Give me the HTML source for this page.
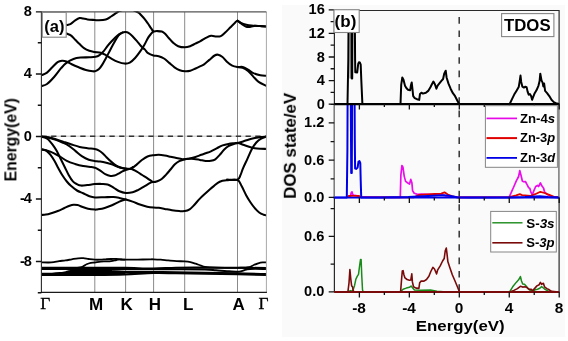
<!DOCTYPE html><html><head><meta charset="utf-8"><style>
html,body{margin:0;padding:0;background:#fff;width:568px;height:341px;overflow:hidden}
svg{display:block}
text{font-family:"Liberation Sans",sans-serif;font-weight:bold;fill:#000;filter:url(#gs)}
.sf{font-family:"Liberation Serif",serif}
</style></head><body>
<svg width="568" height="341" viewBox="0 0 568 341"><defs><filter id="gs"><feColorMatrix type="identity"/></filter></defs>
<rect x="282" y="5" width="283" height="332" fill="#fafafa"/>
<line x1="94.8" y1="11.9" x2="94.8" y2="292.5" stroke="#8a8a8a" stroke-width="1"/>
<line x1="125.6" y1="11.9" x2="125.6" y2="292.5" stroke="#8a8a8a" stroke-width="1"/>
<line x1="153.6" y1="11.9" x2="153.6" y2="292.5" stroke="#8a8a8a" stroke-width="1"/>
<line x1="184.7" y1="11.9" x2="184.7" y2="292.5" stroke="#8a8a8a" stroke-width="1"/>
<line x1="237.5" y1="11.9" x2="237.5" y2="292.5" stroke="#8a8a8a" stroke-width="1"/>
<line x1="41.7" y1="136.2" x2="266.3" y2="136.2" stroke="#aaa" stroke-width="0.7"/>
<line x1="41.7" y1="136.2" x2="266.3" y2="136.2" stroke="#333" stroke-width="1.4" stroke-dasharray="5.3 4.42" stroke-dashoffset="0.3"/>
<clipPath id="ca"><rect x="41.7" y="10.9" width="224.6" height="281.6"/></clipPath>
<g fill="none" stroke="#000" stroke-width="2.05" stroke-linejoin="round" stroke-linecap="round" clip-path="url(#ca)">
<path d="M60 27 C61.12 26.68 64.9 25.63 66.7 25.1 C68.5 24.57 69.38 24.6 70.8 23.8 C72.22 23 73.73 21.27 75.2 20.3 C76.67 19.33 78.28 18.28 79.6 18 C80.92 17.72 81.78 18.37 83.1 18.6 C84.42 18.83 85.6 19.17 87.5 19.4 C89.4 19.63 92.62 19.85 94.5 20 C96.38 20.15 96.92 20.4 98.8 20.3 C100.68 20.2 103.75 20.03 105.8 19.4 C107.85 18.77 109.33 17.58 111.1 16.5 C112.87 15.42 114.92 13.85 116.4 12.9 C117.88 11.95 118.07 11.48 120 10.8 C121.93 10.12 125.37 8.73 128 8.8 C130.63 8.87 133.97 10.5 135.8 11.2 C137.63 11.9 138.13 12.37 139 13 C139.87 13.63 140.08 14.03 141 15 C141.92 15.97 143.35 17.38 144.5 18.8 C145.65 20.22 146.78 21.9 147.9 23.5 C149.02 25.1 150.28 27.1 151.2 28.4 C152.12 29.7 152.42 30.85 153.4 31.3 C154.38 31.75 155.7 31.05 157.1 31.1 C158.5 31.15 160.47 31.17 161.8 31.6 C163.13 32.03 163.9 32.58 165.1 33.7 C166.3 34.82 167.68 36.82 169 38.3 C170.32 39.78 171.47 41.28 173 42.6 C174.53 43.92 176.23 45.42 178.2 46.2 C180.17 46.98 182.82 47.3 184.8 47.3 C186.78 47.3 188.33 46.82 190.1 46.2 C191.87 45.58 193.67 44.45 195.4 43.6 C197.13 42.75 198.77 42.05 200.5 41.1 C202.23 40.15 204.03 38.78 205.8 37.9 C207.57 37.02 209.33 36.03 211.1 35.8 C212.87 35.57 214.78 36.45 216.4 36.5 C218.02 36.55 219.33 36.75 220.8 36.1 C222.27 35.45 223.6 34.07 225.2 32.6 C226.8 31.13 228.8 28.92 230.4 27.3 C232 25.68 233.62 24 234.8 22.9 C235.98 21.8 236.47 20.6 237.5 20.7 C238.53 20.8 239.53 22.48 241 23.5 C242.47 24.52 244.68 26.25 246.3 26.8 C247.92 27.35 249.25 26.97 250.7 26.8 C252.15 26.63 253.4 25.92 255 25.8 C256.6 25.68 258.42 25.98 260.3 26.1 C262.18 26.22 265.3 26.43 266.3 26.5"/>
<path d="M237.5 20.7 C238.08 21.07 239.53 22.23 241 22.9 C242.47 23.57 244.55 24.25 246.3 24.7 C248.05 25.15 249.17 25.37 251.5 25.6 C253.83 25.83 257.83 25.95 260.3 26.1 C262.77 26.25 265.3 26.43 266.3 26.5"/>
<path d="M60 30.5 C61.07 31 64.6 32.7 66.4 33.5 C68.2 34.3 69.33 34.27 70.8 35.3 C72.27 36.33 73.73 38.23 75.2 39.7 C76.67 41.17 78.13 42.7 79.6 44.1 C81.07 45.5 82.38 46.98 84 48.1 C85.62 49.22 87.55 50.15 89.3 50.8 C91.05 51.45 92.58 51.68 94.5 52 C96.42 52.32 98.87 52.15 100.8 52.7 C102.73 53.25 104.33 54.32 106.1 55.3 C107.87 56.28 109.42 57.5 111.4 58.6 C113.38 59.7 115.8 61.07 118 61.9 C120.2 62.73 122.63 63.48 124.6 63.6 C126.57 63.72 128.05 63.53 129.8 62.6 C131.55 61.67 133.37 59.87 135.1 58 C136.83 56.13 138.67 53.57 140.2 51.4 C141.73 49.23 143.02 47.22 144.3 45 C145.58 42.78 146.75 39.98 147.9 38.1 C149.05 36.22 150.28 34.83 151.2 33.7 C152.12 32.57 153.03 31.7 153.4 31.3"/>
<path d="M41.7 75.2 C42.58 74.77 45.23 73.92 47 72.6 C48.77 71.28 50.53 69.03 52.3 67.3 C54.07 65.57 55.98 63.28 57.6 62.2 C59.22 61.12 60.53 60.92 62 60.8 C63.47 60.68 64.78 60.92 66.4 61.5 C68.02 62.08 69.65 63.33 71.7 64.3 C73.75 65.27 76.35 66.37 78.7 67.3 C81.05 68.23 83.45 69.23 85.8 69.9 C88.15 70.57 91.18 71.1 92.8 71.3 C94.42 71.5 94.47 71.48 95.5 71.1 C96.53 70.72 97.87 70.08 99 69 C100.13 67.92 101.13 66.43 102.3 64.6 C103.47 62.77 104.68 60.43 106 58 C107.32 55.57 108.83 52.58 110.2 50 C111.57 47.42 112.8 44.95 114.2 42.5 C115.6 40.05 117.22 36.97 118.6 35.3 C119.98 33.63 121.33 33.05 122.5 32.5 C123.67 31.95 124.6 31.93 125.6 32 C126.6 32.07 127.35 32.2 128.5 32.9 C129.65 33.6 130.97 34.67 132.5 36.2 C134.03 37.73 136.17 40.33 137.7 42.1 C139.23 43.87 140.48 45.55 141.7 46.8 C142.92 48.05 143.93 48.53 145 49.6 C146.07 50.67 146.7 52.22 148.1 53.2 C149.5 54.18 151.63 55 153.4 55.5 C155.17 56 156.93 55.7 158.7 56.2 C160.47 56.7 162.25 57.38 164 58.5 C165.75 59.62 167.45 61.43 169.2 62.9 C170.95 64.37 172.73 66.08 174.5 67.3 C176.27 68.52 178.03 69.53 179.8 70.2 C181.57 70.87 183.35 71.2 185.1 71.3 C186.85 71.4 188.55 71.27 190.3 70.8 C192.05 70.33 193.98 69.23 195.6 68.5 C197.22 67.77 198.58 67.1 200 66.4 C201.42 65.7 202.55 65.38 204.1 64.3 C205.65 63.22 207.55 61.37 209.3 59.9 C211.05 58.43 213.13 56.37 214.6 55.5 C216.07 54.63 216.78 54.45 218.1 54.7 C219.42 54.95 221.03 55.83 222.5 57 C223.97 58.17 225.28 60.25 226.9 61.7 C228.52 63.15 230.43 64.82 232.2 65.7 C233.97 66.58 235.75 66.78 237.5 67 C239.25 67.22 240.95 66.57 242.7 67 C244.45 67.43 246.23 68.58 248 69.6 C249.77 70.62 251.25 72.17 253.3 73.1 C255.35 74.03 258.13 74.75 260.3 75.2 C262.47 75.65 265.3 75.7 266.3 75.8"/>
<path d="M237.5 67 C238.37 67.15 240.95 67.23 242.7 67.9 C244.45 68.57 246.23 69.55 248 71 C249.77 72.45 251.53 74.78 253.3 76.6 C255.07 78.42 256.43 80.37 258.6 81.9 C260.77 83.43 265.02 85.15 266.3 85.8"/>
<path d="M41.7 86.1 C42.58 85.75 44.93 85.52 47 84 C49.07 82.48 51.75 79.63 54.1 77 C56.45 74.37 59.05 70.55 61.1 68.2 C63.15 65.85 64.33 64.43 66.4 62.9 C68.47 61.37 71.15 59.88 73.5 59 C75.85 58.12 77.87 57.88 80.5 57.6 C83.13 57.32 86.8 57.43 89.3 57.3 C91.8 57.17 93.8 57.17 95.5 56.8 C97.2 56.43 98.17 56 99.5 55.1 C100.83 54.2 102.18 52.9 103.5 51.4 C104.82 49.9 106.08 47.75 107.4 46.1 C108.72 44.45 110.08 42.93 111.4 41.5 C112.72 40.07 113.98 38.72 115.3 37.5 C116.62 36.28 118.1 35.02 119.3 34.2 C120.5 33.38 121.97 32.87 122.5 32.6"/>
<path d="M41.7 136.6 C42.73 136.72 45.55 136.87 47.9 137.3 C50.25 137.73 53.17 138.43 55.8 139.2 C58.43 139.97 61.07 141.02 63.7 141.9 C66.33 142.78 68.95 143.67 71.6 144.5 C74.25 145.33 76.95 146.28 79.6 146.9 C82.25 147.52 85 147.85 87.5 148.2 C90 148.55 92.75 148.65 94.6 149 C96.45 149.35 97.27 149.6 98.6 150.3 C99.93 151 101.28 152.05 102.6 153.2 C103.92 154.35 105.18 155.88 106.5 157.2 C107.82 158.52 109.18 159.9 110.5 161.1 C111.82 162.3 113.08 163.47 114.4 164.4 C115.72 165.33 117.07 166.1 118.4 166.7 C119.73 167.3 121.18 167.68 122.4 168 C123.62 168.32 124.17 168.43 125.7 168.6 C127.23 168.77 129.73 168.48 131.6 169 C133.47 169.52 135.13 170.7 136.9 171.7 C138.67 172.7 140.43 173.9 142.2 175 C143.97 176.1 145.93 177.27 147.5 178.3 C149.07 179.33 150.58 180.58 151.6 181.2 C152.62 181.82 152.65 182 153.6 182 C154.55 182 155.95 181.7 157.3 181.2 C158.65 180.7 160.23 180.1 161.7 179 C163.17 177.9 164.63 176.18 166.1 174.6 C167.57 173.02 169.03 171.22 170.5 169.5 C171.97 167.78 173.43 165.7 174.9 164.3 C176.37 162.9 177.65 161.95 179.3 161.1 C180.95 160.25 183.08 159.63 184.8 159.2 C186.52 158.77 187.82 158.87 189.6 158.5 C191.38 158.13 193.55 157.62 195.5 157 C197.45 156.38 199.6 155.42 201.3 154.8 C203 154.18 204.1 153.87 205.7 153.3 C207.3 152.73 209.07 152.23 210.9 151.4 C212.73 150.57 214.75 149.3 216.7 148.3 C218.65 147.3 220.65 146.13 222.6 145.4 C224.55 144.67 226.45 144.27 228.4 143.9 C230.35 143.53 232.73 143.37 234.3 143.2 C235.87 143.03 236.33 143.2 237.8 142.9 C239.27 142.6 241.23 141.97 243.1 141.4 C244.97 140.83 247.05 140.05 249 139.5 C250.95 138.95 252.85 138.52 254.8 138.1 C256.75 137.68 258.78 137.25 260.7 137 C262.62 136.75 265.37 136.67 266.3 136.6"/>
<path d="M41.7 136.8 C42.73 136.93 45.55 137.08 47.9 137.6 C50.25 138.12 53.38 139.08 55.8 139.9 C58.22 140.72 60.2 141.52 62.4 142.5 C64.6 143.48 66.8 144.37 69 145.8 C71.2 147.23 73.4 149.33 75.6 151.1 C77.8 152.87 80 154.97 82.2 156.4 C84.4 157.83 86.73 158.95 88.8 159.7 C90.87 160.45 92.97 160.62 94.6 160.9 C96.23 161.18 96.83 161.15 98.6 161.4 C100.37 161.65 103 161.9 105.2 162.4 C107.4 162.9 109.6 163.62 111.8 164.4 C114 165.18 116.42 166.4 118.4 167.1 C120.38 167.8 122.17 168.27 123.7 168.6 C125.23 168.93 126.28 169.13 127.6 169.1 C128.92 169.07 130.05 169.18 131.6 168.4 C133.15 167.62 135.13 165.83 136.9 164.4 C138.67 162.97 140.43 161.12 142.2 159.8 C143.97 158.48 145.58 157.27 147.5 156.5 C149.42 155.73 151.82 155.48 153.7 155.2 C155.58 154.92 156.97 154.75 158.8 154.8 C160.63 154.85 162.75 155.18 164.7 155.5 C166.65 155.82 168.55 156.28 170.5 156.7 C172.45 157.12 174.43 157.58 176.4 158 C178.37 158.42 180.9 159 182.3 159.2 C183.7 159.4 183.58 159.27 184.8 159.2 C186.02 159.13 188.07 158.85 189.6 158.8 C191.13 158.75 192.28 158.72 194 158.9 C195.72 159.08 197.95 159.55 199.9 159.9 C201.85 160.25 203.87 160.85 205.7 161 C207.53 161.15 209.3 161.08 210.9 160.8 C212.5 160.52 213.83 160.28 215.3 159.3 C216.77 158.32 218.25 156.48 219.7 154.9 C221.15 153.32 222.55 151.27 224 149.8 C225.45 148.33 226.68 147.08 228.4 146.1 C230.12 145.12 232.73 144.43 234.3 143.9 C235.87 143.37 236.33 142.77 237.8 142.9 C239.27 143.03 241.23 144.05 243.1 144.7 C244.97 145.35 247.05 146.2 249 146.8 C250.95 147.4 252.85 147.97 254.8 148.3 C256.75 148.63 258.78 148.7 260.7 148.8 C262.62 148.9 265.37 148.88 266.3 148.9"/>
<path d="M41.7 149.3 C43.13 149.68 47.5 150.53 50.3 151.6 C53.1 152.67 55.75 154.17 58.5 155.7 C61.25 157.23 64.05 159.43 66.8 160.8 C69.55 162.17 72.27 163.03 75 163.9 C77.73 164.77 80.47 165.48 83.2 166 C85.93 166.52 89.5 166.72 91.4 167 C93.3 167.28 93.83 167.52 94.6 167.7 C95.37 167.88 95.12 167.65 96 168.1 C96.88 168.55 98.37 169.4 99.9 170.4 C101.43 171.4 103.43 173.18 105.2 174.1 C106.97 175.02 108.97 175.65 110.5 175.9 C112.03 176.15 113.08 175.97 114.4 175.6 C115.72 175.23 117.07 174.4 118.4 173.7 C119.73 173 121.08 172.07 122.4 171.4 C123.72 170.73 124.98 170.17 126.3 169.7 C127.62 169.23 129.18 169.05 130.3 168.6 C131.42 168.15 132.55 167.27 133 167"/>
<path d="M41.7 136.8 C42.25 136.93 43.9 137.17 45 137.6 C46.1 138.03 47.07 138.27 48.3 139.4 C49.53 140.53 51.03 142.55 52.4 144.4 C53.77 146.25 55.13 148.1 56.5 150.5 C57.87 152.9 59.23 156.05 60.6 158.8 C61.97 161.55 63.33 164.27 64.7 167 C66.07 169.73 67.43 172.8 68.8 175.2 C70.17 177.6 71.53 179.9 72.9 181.4 C74.27 182.9 75.63 183.5 77 184.2 C78.37 184.9 79.38 185.45 81.1 185.6 C82.82 185.75 85.05 185.35 87.3 185.1 C89.55 184.85 92.2 184.3 94.6 184.1 C97 183.9 99.53 183.85 101.7 183.9 C103.87 183.95 105.63 183.78 107.6 184.4 C109.57 185.02 111.53 186.45 113.5 187.6 C115.47 188.75 117.37 190.4 119.4 191.3 C121.43 192.2 123.5 192.83 125.7 193 C127.9 193.17 130.48 192.83 132.6 192.3 C134.72 191.77 136.45 190.78 138.4 189.8 C140.35 188.82 142.33 187.55 144.3 186.4 C146.27 185.25 148.65 183.63 150.2 182.9 C151.75 182.17 153.03 182.15 153.6 182"/>
<path d="M41.7 149.5 C42.45 149.67 44.77 149.63 46.2 150.5 C47.63 151.37 48.93 152.98 50.3 154.7 C51.67 156.42 53.03 158.5 54.4 160.8 C55.77 163.1 57.12 166 58.5 168.5 C59.88 171 61.32 173.63 62.7 175.8 C64.08 177.97 65.43 179.83 66.8 181.5 C68.17 183.17 69.2 184.3 70.9 185.8 C72.6 187.3 74.95 189.25 77 190.5 C79.05 191.75 81.13 192.35 83.2 193.3 C85.27 194.25 87.43 195.52 89.4 196.2 C91.37 196.88 92.45 197.23 95 197.4 C97.55 197.57 101.62 197.25 104.7 197.2 C107.78 197.15 111.05 196.98 113.5 197.1 C115.95 197.22 117.37 197.52 119.4 197.9 C121.43 198.28 123.5 198.78 125.7 199.4 C127.9 200.02 130.23 200.75 132.6 201.6 C134.97 202.45 137.47 203.65 139.9 204.5 C142.33 205.35 144.93 206.18 147.2 206.7 C149.47 207.22 151.57 207.42 153.5 207.6 C155.43 207.78 156.93 207.58 158.8 207.8 C160.67 208.02 162.5 208.48 164.7 208.9 C166.9 209.32 169.57 209.93 172 210.3 C174.43 210.67 177.17 210.97 179.3 211.1 C181.43 211.23 183.08 211.4 184.8 211.1 C186.52 210.8 188.07 210.28 189.6 209.3 C191.13 208.32 192.28 206.98 194 205.2 C195.72 203.42 198.02 200.55 199.9 198.6 C201.78 196.65 203.67 195.02 205.3 193.5 C206.93 191.98 208.28 190.73 209.7 189.5 C211.12 188.27 212.13 187.4 213.8 186.1 C215.47 184.8 217.5 182.67 219.7 181.7 C221.9 180.73 224.03 180.58 227 180.3 C229.97 180.02 235.07 179.03 237.5 180 C239.93 180.97 240.18 183.62 241.6 186.1 C243.02 188.58 244.53 192.22 246 194.9 C247.47 197.58 248.93 200 250.4 202.2 C251.87 204.4 253.33 206.38 254.8 208.1 C256.27 209.82 257.73 211.4 259.2 212.5 C260.67 213.6 262.42 214.25 263.6 214.7 C264.78 215.15 265.85 215.12 266.3 215.2"/>
<path d="M41.7 214.9 C42.4 214.85 44.32 214.88 45.9 214.6 C47.48 214.32 49.22 213.8 51.2 213.2 C53.18 212.6 55.6 211.87 57.8 211 C60 210.13 62.43 208.88 64.4 208 C66.37 207.12 68.07 206.25 69.6 205.7 C71.13 205.15 72.27 204.8 73.6 204.7 C74.93 204.6 76.07 204.72 77.6 205.1 C79.13 205.48 81.05 206.4 82.8 207 C84.55 207.6 86.07 208.27 88.1 208.7 C90.13 209.13 93.47 209.48 95 209.6 C96.53 209.72 95.68 209.68 97.3 209.4 C98.92 209.12 102.25 208.6 104.7 207.9 C107.15 207.2 109.55 206.25 112 205.2 C114.45 204.15 117.12 202.57 119.4 201.6 C121.68 200.63 124.65 199.77 125.7 199.4"/>
<path d="M227 179.6 C228.75 179.6 235.25 180.37 237.5 179.6 C239.75 178.83 239.57 176.92 240.5 175 C241.43 173.08 241.93 170.83 243.1 168.1 C244.27 165.37 246.03 161.78 247.5 158.6 C248.97 155.42 250.43 151.68 251.9 149 C253.37 146.32 254.83 144.2 256.3 142.5 C257.77 140.8 259.03 139.77 260.7 138.8 C262.37 137.83 265.37 137.05 266.3 136.7"/>
</g>
<g fill="none" stroke="#000" stroke-linejoin="round" stroke-linecap="butt" clip-path="url(#ca)">
<path d="M41.7 262.4 C42.85 262.42 46.58 262.55 48.6 262.5 C50.62 262.45 52.05 262.33 53.8 262.1 C55.55 261.87 57.15 261.38 59.1 261.1 C61.05 260.82 63.38 260.7 65.5 260.4 C67.62 260.1 69.7 259.65 71.8 259.3 C73.9 258.95 76.17 258.48 78.1 258.3 C80.03 258.12 81.63 258.08 83.4 258.2 C85.17 258.32 86.81 258.75 88.7 259 C90.59 259.25 92.77 259.58 94.75 259.7 C96.73 259.82 98.76 259.77 100.6 259.7 C102.44 259.63 104.05 259.42 105.8 259.3 C107.55 259.18 109.33 259.05 111.1 259 C112.87 258.95 114.63 258.92 116.4 259 C118.17 259.08 120.2 259.38 121.7 259.5 C123.2 259.62 123.63 259.67 125.4 259.7 C127.17 259.73 129.4 259.73 132.3 259.7 C135.2 259.67 139.85 259.57 142.8 259.5 C145.75 259.43 148.22 259.33 150 259.3 C151.78 259.27 151.65 259.23 153.45 259.3 C155.25 259.37 158.34 259.52 160.8 259.7 C163.26 259.88 165.55 260.17 168.2 260.4 C170.85 260.63 173.97 260.93 176.7 261.1 C179.43 261.27 182.32 261.23 184.6 261.4 C186.88 261.57 188.55 261.72 190.4 262.1 C192.25 262.48 193.93 263.12 195.7 263.7 C197.47 264.28 199.45 265.08 201 265.6 C202.55 266.12 202.48 266.47 205 266.8 C207.52 267.13 212.4 267.43 216.1 267.6 C219.8 267.77 223.63 267.77 227.2 267.8 C230.77 267.83 234.18 267.82 237.5 267.8 C240.82 267.78 242.3 267.67 247.1 267.7 C251.9 267.73 263.1 267.95 266.3 268" stroke-width="1.8"/>
<path d="M76 268 C77.07 267.8 80.63 267.42 82.4 266.8 C84.17 266.18 85.2 264.95 86.6 264.3 C88 263.65 89.44 263.2 90.8 262.9 C92.16 262.6 93.12 262.72 94.75 262.5 C96.38 262.28 98.76 261.78 100.6 261.6 C102.44 261.42 104.05 261.48 105.8 261.4 C107.55 261.32 109.33 261.33 111.1 261.1 C112.87 260.87 114.98 260.28 116.4 260 C117.82 259.72 118.17 259.45 119.6 259.4 C121.03 259.35 124.1 259.65 125 259.7" stroke-width="1.8"/>
<path d="M245 268 C245.73 267.87 247.93 267.7 249.4 267.2 C250.87 266.7 252.33 265.65 253.8 265 C255.27 264.35 256.72 263.73 258.2 263.3 C259.68 262.87 261.35 262.55 262.7 262.4 C264.05 262.25 265.7 262.4 266.3 262.4" stroke-width="1.8"/>
<path d="M41.7 267.9 C50.58 267.9 81.12 267.9 95 267.9 C108.88 267.9 115.25 267.78 125 267.9 C134.75 268.02 145 268.63 153.5 268.6 C162 268.57 167.42 267.87 176 267.7 C184.58 267.53 194.75 267.58 205 267.6 C215.25 267.62 227.28 267.73 237.5 267.8 C247.72 267.87 261.5 267.97 266.3 268" stroke-width="2.1"/>
<path d="M41.7 269 C50.58 269.02 81.12 269.07 95 269.1 C108.88 269.13 115.25 269.17 125 269.2 C134.75 269.23 145 269.28 153.5 269.3 C162 269.32 167.42 269.27 176 269.3 C184.58 269.33 198.33 269.33 205 269.5 C211.67 269.67 212.33 270.02 216 270.3 C219.67 270.58 223.42 270.95 227 271.2 C230.58 271.45 235.07 271.82 237.5 271.8 C239.93 271.78 240.18 271.47 241.6 271.1 C243.02 270.73 244.6 269.97 246 269.6 C247.4 269.23 246.62 269.02 250 268.9 C253.38 268.78 263.58 268.9 266.3 268.9" stroke-width="2.0"/>
<path d="M41.7 273.9 C43.42 273.88 48.95 273.92 52 273.8 C55.05 273.68 57.5 273.47 60 273.2 C62.5 272.93 64.83 272.5 67 272.2 C69.17 271.9 68.33 271.55 73 271.4 C77.67 271.25 88.17 271.3 95 271.3 C101.83 271.3 109 271.28 114 271.4 C119 271.52 118.42 271.87 125 272 C131.58 272.13 145 272.15 153.5 272.2 C162 272.25 167.42 272.18 176 272.3 C184.58 272.42 194.75 272.73 205 272.9 C215.25 273.07 227.28 273.08 237.5 273.3 C247.72 273.52 261.5 274.05 266.3 274.2" stroke-width="2.2"/>
<path d="M41.7 275 C50.58 274.97 81.12 274.92 95 274.8 C108.88 274.68 115.25 274.6 125 274.3 C134.75 274 145 273.18 153.5 273 C162 272.82 167.42 273.1 176 273.2 C184.58 273.3 194.75 273.43 205 273.6 C215.25 273.77 227.28 273.98 237.5 274.2 C247.72 274.42 261.5 274.78 266.3 274.9" stroke-width="2.2"/>
<path d="M66 272 C67 271.77 68.83 270.9 72 270.6 C75.17 270.3 80.33 270.27 85 270.2 C89.67 270.13 95.5 270.2 100 270.2 C104.5 270.2 110 270.2 112 270.2" stroke-width="1.8"/>
<path d="M58 274.4 C60 274.2 65.5 273.47 70 273.2 C74.5 272.93 80 272.88 85 272.8 C90 272.72 95.17 272.7 100 272.7 C104.83 272.7 109.83 272.7 114 272.8 C118.17 272.9 123.17 273.22 125 273.3" stroke-width="2.4"/>
</g>
<line x1="266.4" y1="11.9" x2="266.4" y2="292.5" stroke="#a8a8a8" stroke-width="1"/>
<line x1="41.4" y1="11.9" x2="266.4" y2="11.9" stroke="#555" stroke-width="1.4"/>
<line x1="41.4" y1="11.4" x2="41.4" y2="293.1" stroke="#2a2a2a" stroke-width="1.1"/>
<line x1="41" y1="292.4" x2="266.9" y2="292.4" stroke="#1a1a1a" stroke-width="1.3"/>
<path d="M35.9 11.9 H41.4 M37.8 42.75 H41.4 M35.9 74 H41.4 M37.8 105.25 H41.4 M35.9 136.5 H41.4 M37.8 167.75 H41.4 M35.9 199 H41.4 M37.8 230.25 H41.4 M35.9 261.5 H41.4 M37.8 292.75 H41.4" stroke="#111" stroke-width="1.3"/>
<rect x="42.3" y="12.4" width="23.9" height="24.8" fill="#fff" stroke="#858585" stroke-width="1.1"/>
<text x="44.3" y="32" font-size="16.5">(a)</text>
<text x="31.8" y="15.9" font-size="14.6" text-anchor="end">8</text>
<text x="31.8" y="78.4" font-size="14.6" text-anchor="end">4</text>
<text x="31.8" y="140.9" font-size="14.6" text-anchor="end">0</text>
<text x="31.8" y="203.4" font-size="14.6" text-anchor="end" textLength="11.9" lengthAdjust="spacing">-4</text>
<text x="31.8" y="265.9" font-size="14.6" text-anchor="end" textLength="11.9" lengthAdjust="spacing">-8</text>
<text transform="translate(16.4,181.4) rotate(-90)" font-size="15.8" textLength="83.2" lengthAdjust="spacingAndGlyphs">Energy(eV)</text>
<text class="sf" x="40.2" y="309.1" font-size="17.3" style="font-weight:normal;stroke:#000;stroke-width:0.35">&#915;</text>
<text x="96.2" y="309.9" font-size="17" text-anchor="middle">M</text>
<text x="126.55" y="309.9" font-size="17" text-anchor="middle">K</text>
<text x="155" y="309.9" font-size="17" text-anchor="middle">H</text>
<text x="188.2" y="309.9" font-size="17" text-anchor="middle">L</text>
<text x="238.55" y="309.9" font-size="17" text-anchor="middle">A</text>
<text class="sf" x="258.6" y="309.1" font-size="17.3" style="font-weight:normal;stroke:#000;stroke-width:0.35">&#915;</text>
<line x1="459.2" y1="17.1" x2="459.2" y2="292" stroke="#333" stroke-width="1.5" stroke-dasharray="6.6 6.76"/>
<clipPath id="cm"><rect x="334" y="104.2" width="225.4" height="95"/></clipPath>
<g fill="none" stroke-width="1.8" stroke-linejoin="round">
<rect x="349.4" y="30" width="1.7" height="48.5" fill="#9a9a9a" stroke="none"/>
<path d="M334.4 104.1 L347.5 104.1 L348.3 60 L348.5 30 L351.6 30 L351.8 78.6 L352.2 78.6 L352.4 30 L354.9 30 L355.1 60 L355.3 72.2 L357.2 72.4 L358.2 64 L359 62.3 L359.9 62.5 L360.7 64.5 L361.3 80 L362.4 104.1 L363 104.1 L400.5 104 L401.2 84.9 L402.3 77.5 L403.5 79.7 L405 85.7 L406.5 88.2 L408 89.7 L410.2 90.2 L411 84.9 L411.7 82.4 L412.5 89.4 L413.2 96.2 L414.7 98.1 L417 99.2 L419.2 99.9 L420 93.9 L421.4 92.7 L422.9 93.6 L425.9 92.7 L428.2 90.9 L430.4 87.2 L431.9 84.2 L433.4 81.6 L434.9 84.2 L436.4 88.7 L437.6 85.7 L439.4 83.4 L441.6 80.7 L443.1 79 L444.2 73.7 L445.7 70.7 L446.6 77.5 L448.4 83.4 L450.6 88.7 L452.9 93.2 L455.1 96.2 L457.4 100.7 L458.9 103.6 L460 104.1 L509.7 104 L512 99.1 L514.2 94.6 L516.4 90.9 L518.7 87.1 L519.7 81.1 L520.5 75.6 L521.2 81.9 L522.4 86.7 L523.9 87.6 L525.4 86.7 L526.6 87.1 L527.6 91.6 L528.7 94.6 L529.9 94.1 L531.1 96.1 L532.1 99.8 L532.9 97.6 L534.4 93.8 L536.6 90.1 L538.5 85.6 L539.6 81.1 L540.3 73.7 L541.5 80.4 L542.6 82.6 L543.3 86.4 L544.1 83.4 L545.1 90.9 L547.1 93.1 L549.3 96.1 L551.5 99.8 L553.8 102.1 L556.8 103.6 L559.2 104.1" stroke="#000" stroke-width="2"/>
<g clip-path="url(#cm)">
<path d="M347.5 197.2 L350.5 196 L351.3 192.5 L352 191.8 L352.7 194.5 L353.5 195.2 L356 195.6 L359 196.2 L361 197.2 L400 197.3 L400.3 196.5 L400.9 174.8 L401.9 165.6 L402.9 166.9 L404.2 176.1 L405.6 181.4 L407.5 182.7 L409.5 184.1 L410.8 179.4 L411.9 182.7 L412.6 190.7 L414.2 193.3 L417.5 194.4 L421.4 194.2 L428 194.4 L434.6 194.6 L441.2 194.6 L445.2 195.8 L450.5 196.6 L454.4 197.2 L459 197.4 L509.2 197.2 L511.5 191.8 L513.9 186.5 L516.2 181.2 L518.6 176.5 L519.8 170.6 L521 175.3 L522.4 181.2 L523.9 181.8 L525.4 181.5 L526.8 184.2 L528.6 187.7 L529.8 188.3 L531 192.4 L532.2 194.8 L533.9 190.7 L535.7 186.5 L537.5 185.4 L538.6 186.5 L540.4 183 L541.6 185.4 L542.8 187.1 L543.6 188.3 L544.5 191.8 L546.9 194.2 L550.4 196 L554 197.2 L559.2 197.4" stroke="#ea0cea" stroke-width="1.7"/>
<path d="M347.5 197.2 L348.5 196 L352 195.8 L356 195.8 L359 196 L360.5 197.2 L400 197.4 L414 197.3 L418.8 195 L428 194.4 L434.6 194 L441.2 193.6 L444.5 192.4 L445.9 193.1 L447.8 194.5 L451.8 196.2 L455.8 197.2 L460 197.4 L509.2 197.2 L516.2 195.4 L519.8 194.2 L522.1 195.1 L530.4 196 L535.1 194.2 L540.4 191.8 L544.5 193 L549.3 194.8 L554 196.8 L559.2 197.4" stroke="#e00000"/>
<path d="M334.4 197.4 L346.8 197.4 L347.4 150 L347.6 100 L350.8 100 L351.2 173 L351.8 173 L352.1 100 L354.6 100 L354.8 140 L355.1 168.5 L356.3 168.9 L357.6 167.6 L358.5 161.6 L359.5 161.1 L360.3 163.2 L360.7 180 L361.2 197.4 L362.5 197.4 L380 197.4 L408.2 197.1 L428 196 L443.9 195.3 L450.5 195.9 L457.1 197.2 L470 197.4 L509.2 197.4 L525 197 L539.8 196.2 L548.1 197.1 L559.2 197.4" stroke="#0000e6" stroke-width="2"/>
</g>
<path d="M347 291.9 L350.6 290.6 L352.6 291.2 L354.5 285.7 L355.9 279.1 L357.2 276.4 L358.5 274.4 L359.6 265.9 L360.5 259.5 L361.1 259.5 L361.8 276.4 L362.5 289.6 L363.1 291.9 L400.6 291.6 L403.1 289.2 L406.3 288.1 L409.5 287.3 L411.1 286 L411.9 287.1 L414.4 290 L420.8 290.3 L430.5 290 L436.9 291.3 L443.4 291.7 L460 291.9 L509.7 291.7 L512.7 286.8 L516.2 282.4 L518.6 279.8 L520.4 276.5 L521.5 281 L522.7 283.9 L524.5 284.3 L526.3 286.3 L528 288.6 L530.4 290.4 L532.7 291.3 L535.1 289.8 L537.5 289.2 L539.8 288.3 L541.6 286.6 L543.4 288 L545.1 289.4 L548.1 291 L551 291.8 L555 291.9" stroke="#1a8a1a" stroke-width="1.5"/>
<path d="M334.4 291.9 L347.9 291.9 L349 283 L349.9 269.6 L350.8 279.1 L351.6 285.7 L352.6 287 L353.2 291 L354.5 291.9 L400.6 291.6 L401.5 280.3 L402.3 271 L403.1 270.6 L403.9 274.7 L405 277.9 L407.1 279.5 L409.5 280.3 L410.8 280 L411.8 273.9 L412.4 281.9 L413.5 286.8 L416 288.1 L418.9 288.4 L419.7 282.7 L421.1 281.1 L424 281.1 L426.5 279.5 L428.9 276.3 L430.8 271.5 L432.9 267.4 L434.5 269 L436.6 273.9 L437.7 269.8 L440.2 265.8 L442.6 261 L444.2 258.5 L445.3 250.5 L446.3 248.1 L446.9 252.9 L447.9 261.8 L449.8 267.4 L452.3 274.7 L454.7 280.3 L457.1 286 L459.2 291.3 L460 291.9 L509.7 292 L513.9 290.4 L517.4 288.6 L520.4 286.3 L522.7 287.1 L525.1 286.8 L526.8 287.4 L529.2 289.4 L531 289.2 L532.7 290.6 L534.5 288.6 L536.9 285.9 L539.2 284.7 L540.4 282.4 L541.6 284.3 L543.4 283.3 L544.5 286.8 L546.9 288.6 L549.3 289.8 L551.6 291.3 L556.3 291.9 L559.2 291.9" stroke="#7a0a0a" stroke-width="1.6"/>
</g>
<path d="M334.4 104.1 V10.5 H559.1 V104.1" fill="none" stroke="#2a2a2a" stroke-width="1.2"/>
<path d="M334.2 104.1 V197.6 M558.9 104.1 V197.6" fill="none" stroke="#787878" stroke-width="1.5"/>
<path d="M334.4 197.6 V292 M559.1 197.6 V292" fill="none" stroke="#2a2a2a" stroke-width="1.2"/>
<line x1="334.2" y1="104.1" x2="559.2" y2="104.1" stroke="#000" stroke-width="2.2"/>
<line x1="333.4" y1="197.6" x2="559.2" y2="197.6" stroke="#0000e6" stroke-width="1.8"/>
<line x1="334.2" y1="292" x2="559.2" y2="292" stroke="#7a0a0a" stroke-width="1.8"/>
<path d="M359.38 104.1 V109.6 M384.36 104.1 V107.1 M409.34 104.1 V109.6 M434.32 104.1 V107.1 M459.3 104.1 V109.6 M484.28 104.1 V107.1 M509.26 104.1 V109.6 M534.24 104.1 V107.1 M559.22 104.1 V109.6 M359.38 197.6 V203.1 M384.36 197.6 V200.6 M409.34 197.6 V203.1 M434.32 197.6 V200.6 M459.3 197.6 V203.1 M484.28 197.6 V200.6 M509.26 197.6 V203.1 M534.24 197.6 V200.6 M559.22 197.6 V203.1 M359.38 292 V297.5 M384.36 292 V295 M409.34 292 V297.5 M434.32 292 V295 M459.3 292 V297.5 M484.28 292 V295 M509.26 292 V297.5 M534.24 292 V295 M559.22 292 V297.5 M328.7 104.1 H334.2 M330.6 92.32 H334.2 M328.7 80.55 H334.2 M330.6 68.77 H334.2 M328.7 57 H334.2 M330.6 45.22 H334.2 M328.7 33.45 H334.2 M330.6 21.67 H334.2 M328.7 9.9 H334.2 M328.7 197.4 H334.2 M330.6 178.78 H334.2 M328.7 160.15 H334.2 M330.6 141.53 H334.2 M328.7 122.9 H334.2 M330.6 104.28 H334.2 M328.7 291.9 H334.2 M330.6 264.15 H334.2 M328.7 236.4 H334.2 M330.6 208.65 H334.2" stroke="#111" stroke-width="1.3"/>
<text x="324.8" y="14.4" font-size="14.6" text-anchor="end">16</text>
<text x="324.8" y="37.95" font-size="14.6" text-anchor="end">12</text>
<text x="324.8" y="61.5" font-size="14.6" text-anchor="end">8</text>
<text x="324.8" y="85.05" font-size="14.6" text-anchor="end">4</text>
<text x="324.8" y="108.6" font-size="14.6" text-anchor="end">0</text>
<text x="324.4" y="127.4" font-size="14.6" text-anchor="end">1.2</text>
<text x="324.4" y="164.65" font-size="14.6" text-anchor="end">0.6</text>
<text x="324.4" y="201.9" font-size="14.6" text-anchor="end">0.0</text>
<text x="324.4" y="240.9" font-size="14.6" text-anchor="end">0.6</text>
<text x="324.4" y="296.4" font-size="14.6" text-anchor="end">0.0</text>
<text transform="translate(295.8,198.8) rotate(-90)" font-size="16" textLength="106" lengthAdjust="spacingAndGlyphs">DOS state/eV</text>
<text x="359.08" y="313.2" font-size="15.4" text-anchor="middle">-8</text>
<text x="409.04" y="313.2" font-size="15.4" text-anchor="middle">-4</text>
<text x="459" y="313.2" font-size="15.4" text-anchor="middle">0</text>
<text x="508.96" y="313.2" font-size="15.4" text-anchor="middle">4</text>
<text x="558.92" y="313.2" font-size="15.4" text-anchor="middle">8</text>
<text x="415.8" y="330.8" font-size="15" textLength="88.8" lengthAdjust="spacingAndGlyphs">Energy(eV)</text>
<rect x="334" y="9.7" width="25.2" height="22.8" fill="#fff" stroke="#858585" stroke-width="1.1"/>
<text x="334.6" y="27.2" font-size="17">(b)</text>
<rect x="501.6" y="13.6" width="52.3" height="23" fill="#fff" stroke="#858585" stroke-width="1.1"/>
<text x="504" y="31.1" font-size="17" textLength="46.6" lengthAdjust="spacingAndGlyphs">TDOS</text>
<rect x="485.4" y="105.7" width="72" height="61.6" fill="#fff" stroke="#858585" stroke-width="1"/>
<line x1="486.5" y1="118.4" x2="517" y2="118.4" stroke="#e60ae6" stroke-width="1.7"/>
<line x1="486.5" y1="138.1" x2="517" y2="138.1" stroke="#e00000" stroke-width="2"/>
<line x1="486.5" y1="157.9" x2="517" y2="157.9" stroke="#0000e6" stroke-width="1.8"/>
<text x="520" y="122.6" font-size="13" textLength="35.2" lengthAdjust="spacingAndGlyphs">Zn-4<tspan font-style="italic">s</tspan></text>
<text x="520" y="142.1" font-size="13" textLength="35.2" lengthAdjust="spacingAndGlyphs">Zn-3<tspan font-style="italic">p</tspan></text>
<text x="520" y="161.6" font-size="13" textLength="35.2" lengthAdjust="spacingAndGlyphs">Zn-3<tspan font-style="italic">d</tspan></text>
<rect x="490.7" y="211.4" width="65.6" height="40.6" fill="#fff" stroke="#858585" stroke-width="1"/>
<line x1="492.3" y1="222.8" x2="522.5" y2="222.8" stroke="#1a8a1a" stroke-width="1.4"/>
<line x1="492.3" y1="242.8" x2="522.5" y2="242.8" stroke="#7a0a0a" stroke-width="1.6"/>
<text x="526.2" y="227.8" font-size="13" textLength="28.4" lengthAdjust="spacingAndGlyphs">S-<tspan font-style="italic">3s</tspan></text>
<text x="526.2" y="246.8" font-size="13" textLength="28.4" lengthAdjust="spacingAndGlyphs">S-<tspan font-style="italic">3p</tspan></text>
</svg></body></html>
